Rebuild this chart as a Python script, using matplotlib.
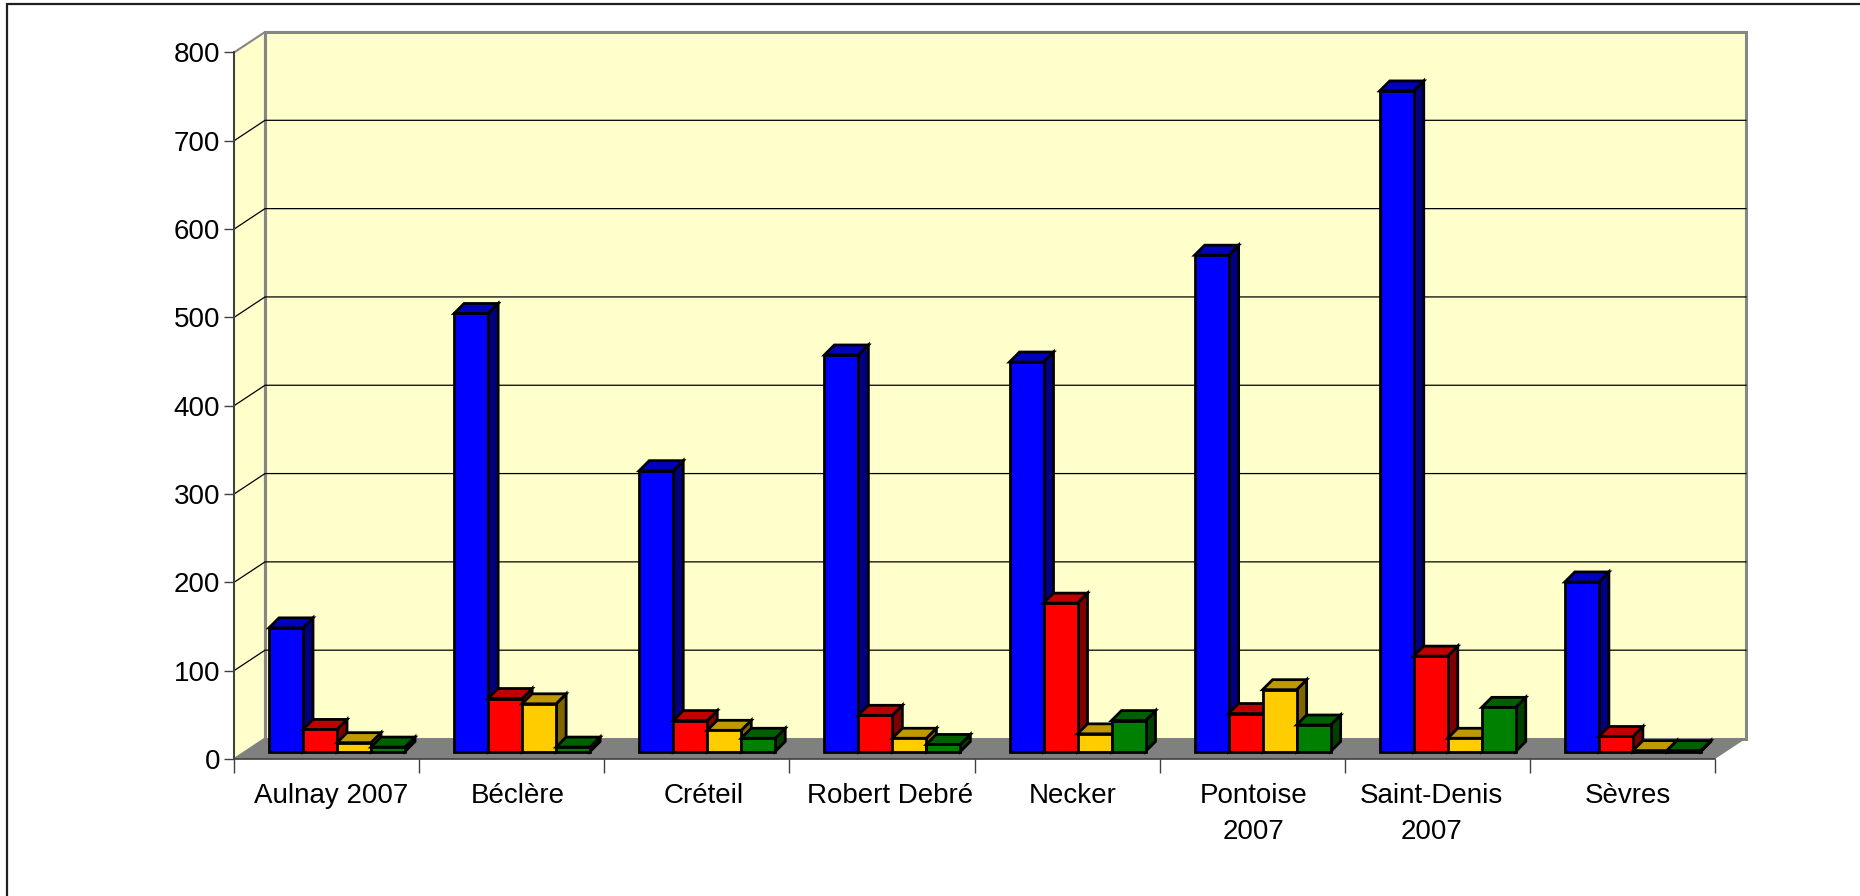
import matplotlib
matplotlib.use("Agg")
import matplotlib.pyplot as plt
from matplotlib.patches import Polygon, Rectangle
from matplotlib.lines import Line2D

plt.rcParams['font.family'] = ['Liberation Sans', 'DejaVu Sans']

W, H = 1860, 896

categories = ["Aulnay 2007", "Béclère", "Créteil", "Robert Debré", "Necker",
              "Pontoise\n2007", "Saint-Denis\n2007", "Sèvres"]
blue = [140, 496, 318, 449, 441, 562, 748, 192]
red = [25, 60, 35, 41, 168, 43, 108, 17]
yellow = [10, 54, 24, 15, 20, 70, 15, 1]
green = [5, 5, 15, 8, 35, 30, 50, 1]
y_ticks = [0, 100, 200, 300, 400, 500, 600, 700, 800]

series = [(blue, "#0000ff", "#000080", "#0000c0"),
          (red, "#ff0000", "#800000", "#c00000"),
          (yellow, "#ffcc00", "#806600", "#c09900"),
          (green, "#008000", "#004000", "#006000")]

# plot plane in pixels
left, right, bottom, top = 234, 1715, 759, 52.5
px_x = (right - left) / len(categories)
px_y = (bottom - top) / 800

# 3d offsets turned into data units
wall_dx = 31 / px_x
wall_dy = 20.5 / px_y
bar_w = 34 / px_x
bar_start = 35 / px_x
bar_dx = 10 / px_x
bar_dy = 10 / px_y
bar_base = 7.5 / px_y

# labels are not quite centred in the original, pixels off the category centre
label_shift = [5, 6, 7, 8, 6, 1, -6, 5]

fig = plt.figure(figsize=(W / 100, H / 100), dpi=100)
ax = fig.add_axes([left / W, 1 - bottom / H, (right - left) / W, (bottom - top) / H])
ax.set_xlim(0, len(categories))
ax.set_ylim(0, 800)
ax.patch.set_visible(False)
for s in ax.spines.values():
    s.set_visible(False)

n = len(categories)
grey = "#868686"
# walls
ax.add_patch(Polygon([(0, 0), (wall_dx, wall_dy), (wall_dx, 800 + wall_dy), (0, 800)],
                     fc="#ffffcc", ec=grey, lw=1.5, clip_on=False, zorder=1))
ax.add_patch(Rectangle((wall_dx, wall_dy), n, 800, fc="#ffffcc", ec=grey, lw=2.2,
                       clip_on=False, zorder=1))
# floor
ax.add_patch(Polygon([(0, 0), (n, 0), (n + wall_dx, wall_dy), (wall_dx, wall_dy)],
                     fc="#808080", ec="none", clip_on=False, zorder=2))
# gridlines
for t in y_ticks[1:-1]:
    ax.plot([0, wall_dx, n + wall_dx], [t, t + wall_dy, t + wall_dy], color="#000000",
            lw=0.9, clip_on=False, zorder=2, solid_joinstyle="miter")

# bars, drawn left to right so each one covers the side of the one before
for i in range(n):
    for j, (vals, front, side, cap) in enumerate(series):
        x0 = i + bar_start + j * bar_w
        x1 = x0 + bar_w
        y0 = bar_base
        y1 = bar_base + vals[i]
        z = 3 + i + j * 0.1
        ax.add_patch(Polygon([(x1, y0), (x1 + bar_dx, y0 + bar_dy), (x1 + bar_dx, y1 + bar_dy), (x1, y1)],
                             fc=side, ec="black", lw=2, clip_on=False, zorder=z, joinstyle="miter"))
        ax.add_patch(Polygon([(x0, y1), (x1, y1), (x1 + bar_dx, y1 + bar_dy), (x0 + bar_dx, y1 + bar_dy)],
                             fc=cap, ec="black", lw=2, clip_on=False, zorder=z, joinstyle="miter"))
        ax.bar(x0, vals[i], width=bar_w, bottom=bar_base, align="edge", color=front,
               edgecolor="black", lw=2, clip_on=False, zorder=z + 0.01)

# front axes lines
ax.plot([0, 0], [0, 800], color="#404040", lw=1.4, clip_on=False, zorder=2.5)
ax.plot([0, n], [0, 0], color="#404040", lw=1.2, clip_on=False, zorder=2.5)

ax.set_yticks(y_ticks)
ax.tick_params(axis="y", length=7, width=1, color="#404040", labelsize=20, pad=3)
ax.set_xticks(range(n + 1))
ax.set_xticklabels([])
ax.set_xticks([i + 0.5 + label_shift[i] / px_x for i in range(n)], labels=categories, minor=True)
ax.tick_params(axis="x", which="major", length=10, width=1, color="#404040")
ax.tick_params(axis="x", which="minor", length=0, labelsize=20, pad=17)
for lab in ax.get_xticklabels(minor=True):
    lab.set_linespacing(1.5)

# outer frame of the picture, only top and left show
fx = 6.5 / W
fy = 1 - 4.5 / H
fig.add_artist(Line2D([fx, fx, 1], [0, fy, fy], color="#202020", lw=1.6,
                      transform=fig.transFigure, solid_joinstyle="miter"))

fig.savefig("out.png", dpi=100, facecolor="white")
